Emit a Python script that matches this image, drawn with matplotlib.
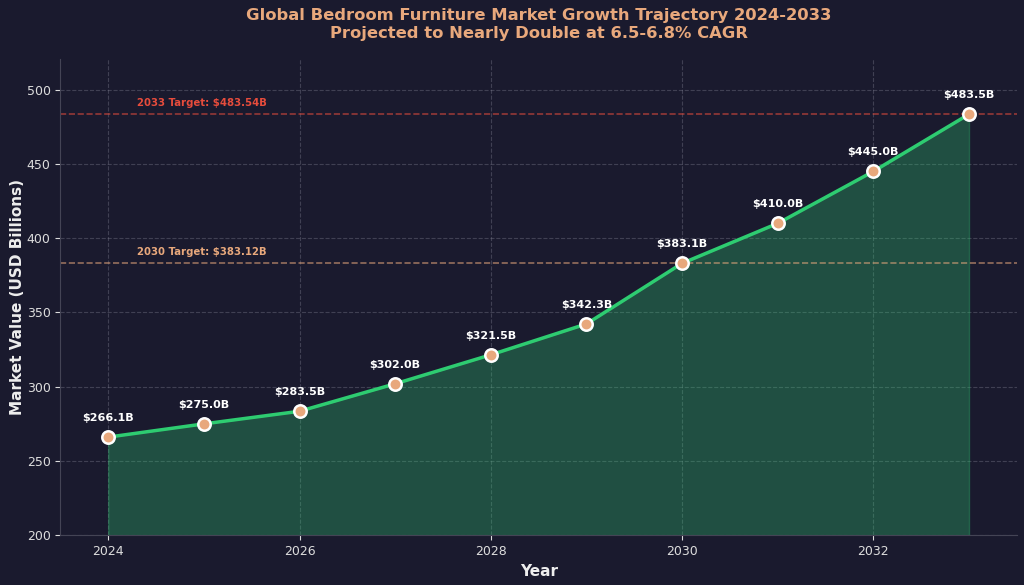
import matplotlib.pyplot as plt

years = [2024, 2025, 2026, 2027, 2028, 2029, 2030, 2031, 2032, 2033]
market = [266.1, 275.0, 283.5, 302.0, 321.5, 342.3, 383.1, 410.0, 445.0, 483.5]
target_2030 = 383.12
target_2033 = 483.54

bg = "#1a1a2e"
green = "#2ecc71"
orange = "#e8a87c"
red = "#e74c3c"

fig, ax = plt.subplots(figsize=(10.24, 5.85), dpi=100)
fig.patch.set_facecolor(bg)
ax.set_facecolor(bg)

ax.fill_between(years, 200, market, color=green, alpha=0.3, zorder=1)
ax.plot(years, market, color=green, linewidth=2.5, zorder=3)
ax.scatter(years, market, s=80, color=orange, edgecolors="white", linewidths=1.8, zorder=4)

for x, y in zip(years, market):
    ax.annotate(f"${y:.1f}B", (x, y), xytext=(0, 10), textcoords="offset points",
                ha="center", va="bottom", color="white", fontsize=8, fontweight="bold")

ax.axhline(target_2030, color=orange, linestyle="--", linewidth=1.2, alpha=0.6, zorder=2)
ax.axhline(target_2033, color=red, linestyle="--", linewidth=1.2, alpha=0.6, zorder=2)
ax.text(2024.3, target_2030 + 4, f"2030 Target: ${target_2030}B", color=orange,
        fontsize=7.3, fontweight="bold", va="bottom")
ax.text(2024.3, target_2033 + 4, f"2033 Target: ${target_2033}B", color=red,
        fontsize=7.3, fontweight="bold", va="bottom")

ax.set_xlim(2023.5, 2033.5)
ax.set_ylim(200, 521)
ax.set_xticks([2024, 2026, 2028, 2030, 2032])

ax.grid(True, linestyle="--", color="#888899", alpha=0.35)
ax.set_axisbelow(True)
for s in ["top", "right"]:
    ax.spines[s].set_visible(False)
for s in ["left", "bottom"]:
    ax.spines[s].set_color("#444455")
ax.tick_params(colors="#dddddd", labelsize=9)

ax.set_xlabel("Year", color="#eeeeee", fontsize=11, fontweight="bold")
ax.set_ylabel("Market Value (USD Billions)", color="#eeeeee", fontsize=11, fontweight="bold", labelpad=1)
ax.set_title("Global Bedroom Furniture Market Growth Trajectory 2024-2033\nProjected to Nearly Double at 6.5-6.8% CAGR",
             color=orange, fontsize=11.8, fontweight="bold", pad=15)

plt.subplots_adjust(left=0.059, right=0.993, top=0.9, bottom=0.085)
plt.savefig("out.png", facecolor=bg)
